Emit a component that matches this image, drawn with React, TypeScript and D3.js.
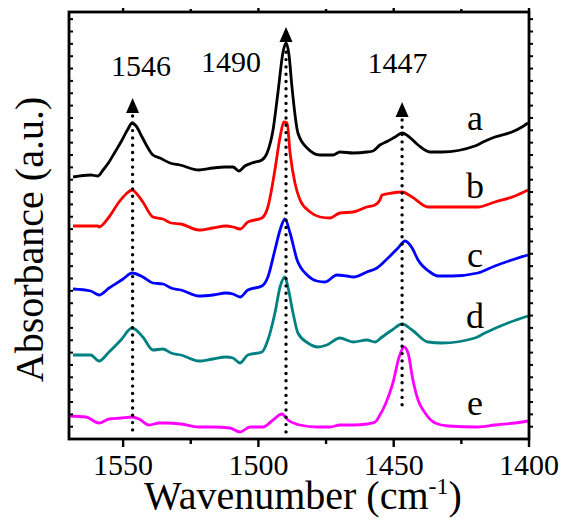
import { useEffect } from 'react'
import * as d3 from 'd3'

// spectra: [wavenumber (cm-1), absorbance (a.u., offset)]
const spectrumA: [number, number][] = [
  [1568.5, 2.62], [1562, 2.64], [1559.3, 2.63], [1557.4, 2.69], [1555.2, 2.77], [1553, 2.87],
  [1550.8, 2.97], [1548.2, 3.1], [1546.7, 3.16], [1545.2, 3.13], [1543, 3.02], [1540.8, 2.91],
  [1539, 2.84], [1536.4, 2.81], [1532.7, 2.76], [1529, 2.74], [1522, 2.69], [1516.8, 2.71],
  [1512.4, 2.72], [1509.4, 2.72], [1507.2, 2.68], [1505, 2.73], [1502.4, 2.76], [1498.7, 2.79],
  [1496.8, 2.86], [1494.6, 3.09], [1492.8, 3.46], [1490.9, 3.87], [1489.8, 3.96], [1488.7, 3.84],
  [1487.6, 3.52], [1485.4, 3.06], [1482, 2.91], [1477.2, 2.84], [1472.4, 2.84], [1469.9, 2.87],
  [1465, 2.86], [1459.9, 2.87], [1457.7, 2.88], [1455.1, 2.94], [1452.1, 2.98], [1449.5, 3.02],
  [1446.9, 3.06], [1444.7, 3.03], [1441, 2.94], [1436.6, 2.87], [1432.2, 2.87], [1420, 2.93],
  [1417, 2.97], [1412.6, 3.02], [1406.3, 3.07], [1402.6, 3.12], [1400.4, 3.16],
]

const spectrumB: [number, number][] = [
  [1568.5, 2.13], [1562, 2.13], [1559.3, 2.13], [1558.9, 2.12], [1555.2, 2.22], [1551.5, 2.37],
  [1548.9, 2.45], [1546.7, 2.49], [1544.9, 2.45], [1542.7, 2.37], [1539, 2.22], [1535.3, 2.2],
  [1532.3, 2.16], [1528.6, 2.15], [1522, 2.09], [1516.8, 2.11], [1512, 2.13], [1509.4, 2.12],
  [1506.8, 2.1], [1503.9, 2.17], [1498.7, 2.21], [1496.5, 2.32], [1493.9, 2.69], [1492, 3.02],
  [1490.6, 3.17], [1489.4, 3.16], [1488.3, 2.86], [1486.5, 2.56], [1484.6, 2.39], [1480.9, 2.27],
  [1477.2, 2.22], [1473.5, 2.21], [1469.9, 2.26], [1465, 2.27], [1459.9, 2.32], [1456.9, 2.34],
  [1455.1, 2.39], [1454.3, 2.44], [1450.6, 2.46], [1446.9, 2.47], [1443.2, 2.42], [1437.3, 2.32],
  [1432.2, 2.32], [1418.9, 2.32], [1412.6, 2.37], [1405.2, 2.43], [1400.4, 2.49],
]

const spectrumC: [number, number][] = [
  [1568.5, 1.5], [1562, 1.48], [1558.9, 1.44], [1555.2, 1.51], [1550, 1.6], [1546.7, 1.66],
  [1542.7, 1.62], [1539, 1.56], [1535.3, 1.55], [1532.3, 1.51], [1528.6, 1.49], [1522, 1.43],
  [1516.8, 1.44], [1512, 1.46], [1509.4, 1.45], [1506.8, 1.42], [1503.9, 1.49], [1498.7, 1.53],
  [1496.5, 1.62], [1493.9, 1.89], [1492, 2.09], [1490.2, 2.2], [1488.3, 2.06], [1485.7, 1.79],
  [1482, 1.64], [1478.4, 1.58], [1475.4, 1.57], [1471, 1.64], [1467.3, 1.63], [1465, 1.62],
  [1459.9, 1.67], [1456.2, 1.71], [1452.1, 1.81], [1448.4, 1.91], [1445.8, 1.98], [1443.2, 1.91],
  [1441, 1.79], [1436.6, 1.67], [1433.6, 1.63], [1428.5, 1.63], [1418.9, 1.66], [1412.6, 1.73],
  [1405.2, 1.8], [1400.4, 1.84],
]

const spectrumD: [number, number][] = [
  [1568.5, 0.84], [1562, 0.84], [1558.9, 0.78], [1555.2, 0.87], [1550.8, 0.99], [1546.7, 1.11],
  [1542.7, 1.02], [1539, 0.89], [1535.3, 0.9], [1532.3, 0.86], [1528.6, 0.84], [1522, 0.78],
  [1516.8, 0.8], [1512, 0.82], [1509.4, 0.81], [1506.8, 0.76], [1503.9, 0.84], [1498.7, 0.87],
  [1496.5, 0.99], [1493.9, 1.26], [1492, 1.52], [1490.2, 1.62], [1489.1, 1.52], [1487.2, 1.26],
  [1485.4, 1.06], [1481.7, 0.96], [1478, 0.92], [1474.7, 0.94], [1469.9, 1.01], [1465, 0.97],
  [1459.9, 0.99], [1456.9, 0.97], [1454.3, 1.02], [1450.6, 1.09], [1446.9, 1.15], [1443.2, 1.09],
  [1437.3, 0.97], [1432.2, 0.96], [1420, 1.01], [1416.3, 1.06], [1407.8, 1.16], [1400.4, 1.23],
]

const spectrumE: [number, number][] = [
  [1570, 0.23], [1563.7, 0.22], [1558.9, 0.16], [1555.2, 0.2], [1550.8, 0.21], [1546.7, 0.22],
  [1544.1, 0.2], [1540.4, 0.14], [1536.7, 0.16], [1534.2, 0.16], [1528.6, 0.15], [1522, 0.12],
  [1516.8, 0.12], [1510.5, 0.11], [1506.8, 0.07], [1503.1, 0.12], [1498.3, 0.12], [1494.6, 0.19],
  [1491.3, 0.25], [1489.1, 0.19], [1484.6, 0.14], [1478.4, 0.12], [1473.5, 0.12], [1469.9, 0.14],
  [1465, 0.14], [1459.9, 0.15], [1456.9, 0.17], [1455.1, 0.24], [1453.2, 0.34], [1450.3, 0.56],
  [1448, 0.82], [1446.2, 0.92], [1444.7, 0.86], [1442.9, 0.59], [1441, 0.39], [1438.4, 0.26],
  [1434.7, 0.16], [1429.9, 0.13], [1418.9, 0.12], [1412.6, 0.14], [1405.2, 0.16], [1400.4, 0.18],
]

const spectra = [spectrumA, spectrumB, spectrumC, spectrumD, spectrumE]
const seriesNames = ['a', 'b', 'c', 'd', 'e']
const seriesColors = ['#000000', '#ff0000', '#0000ff', '#008080', '#ff00ff']
const seriesLabelY = [3.09, 2.41, 1.72, 1.11, 0.24]
const seriesLabelX = 1420

const majorTicks = [1550, 1500, 1450, 1400]
const minorTicks = [1525, 1475, 1425]

// marked peaks
const peakPositions = [1546.5, 1489.8, 1446.9]
const peakLabels = ['1546', '1490', '1447']
const peakLabelX = [1543.4, 1510.1, 1448.6]
const peakLabelY = [3.63, 3.67, 3.66]
const peakLineTop = [3.26, 3.97, 3.22]
const peakLineBottom = [0.07, 0.07, 0.31]

const W = 562
const H = 519
const margin = { top: 12, right: 33, bottom: 80, left: 69 }

export default function App() {
  useEffect(() => {
    document.body.style.margin = '0'
  }, [])

  const x = d3.scaleLinear().domain([1570, 1400]).range([margin.left, W - margin.right])
  const y = d3.scaleLinear().domain([0, 4.27]).range([H - margin.bottom, margin.top])

  const line = d3
    .line<[number, number]>()
    .x((d) => x(d[0]))
    .y((d) => y(d[1]))
    .curve(d3.curveMonotoneX)

  const x0 = x.range()[0]
  const x1 = x.range()[1]
  const yb = y.range()[0]
  const yt = y.range()[1]

  const yTicks = d3.range(0.123, 4.27, 0.1235)

  return (
    <svg width={W} height={H} fontFamily="Liberation Serif" style={{ display: 'block' }}>
      {spectra.map((s, i) => (
        <path key={i} d={line(s) || ''} fill="none" stroke={seriesColors[i]} strokeWidth={2.8} strokeLinejoin="round" />
      ))}

      {peakPositions.map((p, i) => {
        const px = x(p)
        const top = y(peakLineTop[i])
        return (
          <g key={'pk' + i}>
            <line x1={px} x2={px} y1={top + 3} y2={y(peakLineBottom[i])} stroke="#000" strokeWidth={3.4}
              strokeDasharray="0 7.3" strokeLinecap="round" />
            <path d={`M${px},${top - 15}L${px + 6.5},${top}L${px - 6.5},${top}Z`} fill="#000" />
            <text x={x(peakLabelX[i])} y={y(peakLabelY[i])} textAnchor="middle" fontSize={30}>
              {peakLabels[i]}
            </text>
          </g>
        )
      })}

      {seriesNames.map((n, i) => (
        <text key={n} x={x(seriesLabelX)} y={y(seriesLabelY[i])} textAnchor="middle" fontSize={36}>
          {n}
        </text>
      ))}

      {/* frame */}
      <rect x={x0} y={yt} width={x1 - x0} height={yb - yt} fill="none" stroke="#000" strokeWidth={2.8} />

      {/* bottom & top ticks */}
      {majorTicks.map((t) => (
        <g key={'M' + t}>
          <line x1={x(t)} x2={x(t)} y1={yb} y2={yb + 8} stroke="#000" strokeWidth={2.4} />
          <line x1={x(t)} x2={x(t)} y1={yt} y2={yt - 4} stroke="#000" strokeWidth={2.4} />
          <text x={x(t)} y={475} textAnchor="middle" fontSize={30}>{t}</text>
        </g>
      ))}
      {minorTicks.map((t) => (
        <g key={'m' + t}>
          <line x1={x(t)} x2={x(t)} y1={yb} y2={yb + 5} stroke="#000" strokeWidth={2.4} />
          <line x1={x(t)} x2={x(t)} y1={yt} y2={yt - 3} stroke="#000" strokeWidth={2.4} />
        </g>
      ))}

      {/* left & right ticks */}
      {yTicks.map((t, i) => (
        <g key={'y' + i}>
          <line x1={x0} x2={x0 + 4} y1={y(t)} y2={y(t)} stroke="#000" strokeWidth={2} />
          <line x1={x1} x2={x1 + 4} y1={y(t)} y2={y(t)} stroke="#000" strokeWidth={2} />
        </g>
      ))}

      <text x={(x0 + x1) / 2 + 4} y={509} textAnchor="middle" fontSize={40}>
        Wavenumber (cm<tspan fontSize={24} dy={-15}>-1</tspan><tspan dy={15}>)</tspan>
      </text>
      <text transform={`translate(43,${(yb + yt) / 2 + 14}) rotate(-90)`} textAnchor="middle" fontSize={40}>
        Absorbance (a.u.)
      </text>
    </svg>
  )
}
